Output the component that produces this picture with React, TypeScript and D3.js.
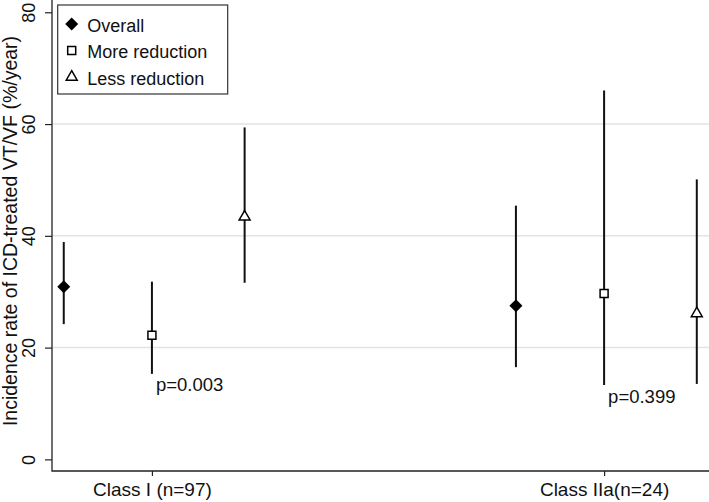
import React, { useEffect, useRef } from 'react';
import * as d3 from 'd3';

// categories and series
const classLabels = ['Class I (n=97)', 'Class IIa(n=24)'];
const seriesNames = ['Overall', 'More reduction', 'Less reduction'];
const seriesOffsets = [-0.195, 0, 0.205];

// incidence rate (%/year), one value per class
const estimates = [[30.9, 27.5], [22.2, 29.7], [43.4, 26.1]];
const lowerCI = [[24.2, 16.5], [15.3, 13.3], [31.6, 13.5]];
const upperCI = [[38.9, 45.4], [31.8, 66.0], [59.4, 50.1]];
const pValues = ['p=0.003', 'p=0.399'];

const yTicks = [0, 20, 40, 60, 80];
const gridTicks = [20, 40, 60];

const FONT = '"Liberation Sans", Arial, Helvetica, sans-serif';

const App = () => {
  const svgRef = useRef<SVGSVGElement | null>(null);
  const width = 709;
  const height = 502;

  useEffect(() => {
    if (!svgRef.current) return;
    const svg = d3.select(svgRef.current);
    svg.selectAll('*').remove();

    const x = d3.scaleLinear().domain([0.779, 2.232]).range([52, 709]);
    const y = d3.scaleLinear().domain([-2.08, 82.2]).range([471, 0]);
    const axisColor = '#222';

    svg.append('rect').attr('width', width).attr('height', height).attr('fill', 'white');

    // gridlines
    svg.append('g')
      .selectAll('line')
      .data(gridTicks)
      .join('line')
      .attr('x1', x.range()[0])
      .attr('x2', x.range()[1])
      .attr('y1', d => y(d))
      .attr('y2', d => y(d))
      .attr('stroke', '#e3e3e3')
      .attr('stroke-width', 1.5);

    // y axis
    const yAxis = svg.append('g')
      .attr('transform', `translate(${x.range()[0]},0)`)
      .call(d3.axisLeft(y).tickValues(yTicks).tickSize(7).tickSizeOuter(0));
    yAxis.select('.domain').remove();
    yAxis.selectAll('line').attr('stroke', axisColor).attr('stroke-width', 1.2);
    yAxis.selectAll('text')
      .attr('x', 0)
      .attr('dy', 0)
      .attr('text-anchor', 'middle')
      .attr('transform', 'translate(-17,0) rotate(-90)')
      .attr('fill', '#111')
      .style('font-family', FONT)
      .style('font-size', '18px');

    // x axis
    const xAxis = svg.append('g')
      .attr('transform', `translate(0,${y.range()[0]})`)
      .call(d3.axisBottom(x).tickValues([1, 2]).tickFormat((d, i) => classLabels[i]).tickSize(5).tickSizeOuter(0));
    xAxis.select('.domain').remove();
    xAxis.selectAll('line').attr('stroke', axisColor).attr('stroke-width', 1.2);
    xAxis.selectAll('text')
      .attr('y', 25)
      .attr('dy', 0)
      .attr('fill', '#111')
      .style('font-family', FONT)
      .style('font-size', '19px');

    // axis lines
    svg.append('path')
      .attr('d', `M${x.range()[0]},0V${y.range()[0]}H${x.range()[1]}`)
      .attr('fill', 'none')
      .attr('stroke', axisColor)
      .attr('stroke-width', 1.3);

    // y title
    svg.append('text')
      .attr('transform', 'translate(17,231) rotate(-90)')
      .attr('text-anchor', 'middle')
      .attr('fill', '#111')
      .style('font-family', FONT)
      .style('font-size', '19.5px')
      .text('Incidence rate of ICD-treated VT/VF (%/year)');

    const symbols = [
      { type: d3.symbolSquare, size: 85, rotate: 45, fill: '#000', stroke: 'none' },
      { type: d3.symbolSquare, size: 64, rotate: 0, fill: 'white', stroke: '#000' },
      { type: d3.symbolTriangle, size: 52, rotate: 0, fill: 'white', stroke: '#000' },
    ];

    const points = seriesNames.flatMap((name, s) =>
      classLabels.map((cl, c) => ({
        s,
        c,
        xv: c + 1 + seriesOffsets[s],
        est: estimates[s][c],
        lo: lowerCI[s][c],
        hi: upperCI[s][c],
      }))
    );

    // confidence spikes
    svg.append('g')
      .selectAll('line')
      .data(points)
      .join('line')
      .attr('x1', d => x(d.xv))
      .attr('x2', d => x(d.xv))
      .attr('y1', d => y(d.lo))
      .attr('y2', d => y(d.hi))
      .attr('stroke', '#111')
      .attr('stroke-width', 2);

    // markers
    svg.append('g')
      .selectAll('path')
      .data(points)
      .join('path')
      .attr('d', d => d3.symbol(symbols[d.s].type, symbols[d.s].size)())
      .attr('transform', d => `translate(${x(d.xv)},${y(d.est)}) rotate(${symbols[d.s].rotate})`)
      .attr('fill', d => symbols[d.s].fill)
      .attr('stroke', d => symbols[d.s].stroke)
      .attr('stroke-width', 1.5);

    // p-values under the "more reduction" spike
    svg.append('g')
      .selectAll('text')
      .data(pValues)
      .join('text')
      .attr('x', (d, c) => x(c + 1 + seriesOffsets[1]) + 4)
      .attr('y', (d, c) => y(lowerCI[1][c]) + 17.5)
      .attr('fill', '#111')
      .style('font-family', FONT)
      .style('font-size', '18.5px')
      .text(d => d);

    // legend
    const legend = svg.append('g');
    legend.append('rect')
      .attr('x', 57.7)
      .attr('y', 5)
      .attr('width', 170)
      .attr('height', 89)
      .attr('fill', 'white')
      .attr('stroke', '#333')
      .attr('stroke-width', 1.2);
    const items = legend.selectAll('g.item')
      .data(seriesNames)
      .join('g')
      .attr('class', 'item')
      .attr('transform', (d, i) => `translate(71.7,${24 + i * 26.5})`);
    items.append('path')
      .attr('d', (d, i) => d3.symbol(symbols[i].type, symbols[i].size)())
      .attr('transform', (d, i) => `rotate(${symbols[i].rotate})`)
      .attr('fill', (d, i) => symbols[i].fill)
      .attr('stroke', (d, i) => symbols[i].stroke)
      .attr('stroke-width', 1.5);
    items.append('text')
      .attr('x', 15.5)
      .attr('y', 7.5)
      .attr('fill', '#111')
      .style('font-family', FONT)
      .style('font-size', '18px')
      .text(d => d);
  }, []);

  return (
    <div style={{ position: 'absolute', left: 0, top: 0 }}>
      <svg ref={svgRef} width={width} height={height} style={{ display: 'block' }}></svg>
    </div>
  );
};

export default App;
